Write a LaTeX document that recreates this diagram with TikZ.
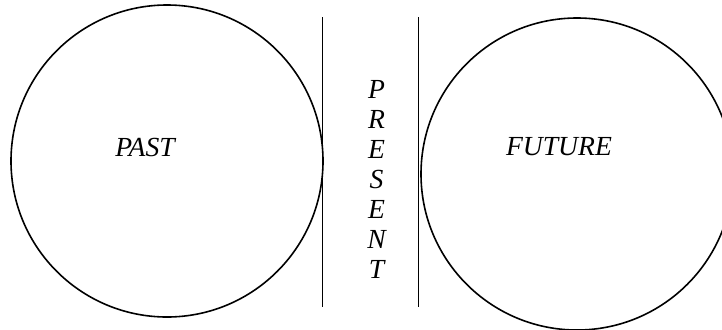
\documentclass[tikz,border=0pt]{standalone}
\usepackage{fontspec}
\setmainfont{Liberation Serif}
\usepackage{tikz}
\usetikzlibrary{positioning}

\begin{document}
\begin{tikzpicture}[
  x=0.5pt, y=0.5pt,
  era/.style={circle, draw, line width=0.8pt, minimum size=156pt, inner sep=0pt},
  word/.style={font=\fontsize{13.8}{15}\selectfont\itshape, inner sep=0pt, align=center},
  bar/.style={line width=0.9pt},
]
\useasboundingbox (0,0) rectangle (722,329);

\node[era] (pastc)   at (167,168) {};
\node[era] (futurec) at (577,155) {};

\node[word] (past)   at (145,182) {PAST};
\node[word] (future) at (559,182) {FUTURE};
\node[word] (present) at (376.5,150) {P\\R\\E\\S\\E\\N\\T};

% bars
\coordinate (la) at (322.5,312);
\coordinate (lb) at (322.5,22);
\coordinate (ra) at (418.5,312);
\coordinate (rb) at (418.5,22);
\draw[bar] (la) -- (lb);
\draw[bar] (ra) -- (rb);

\end{tikzpicture}
\end{document}
